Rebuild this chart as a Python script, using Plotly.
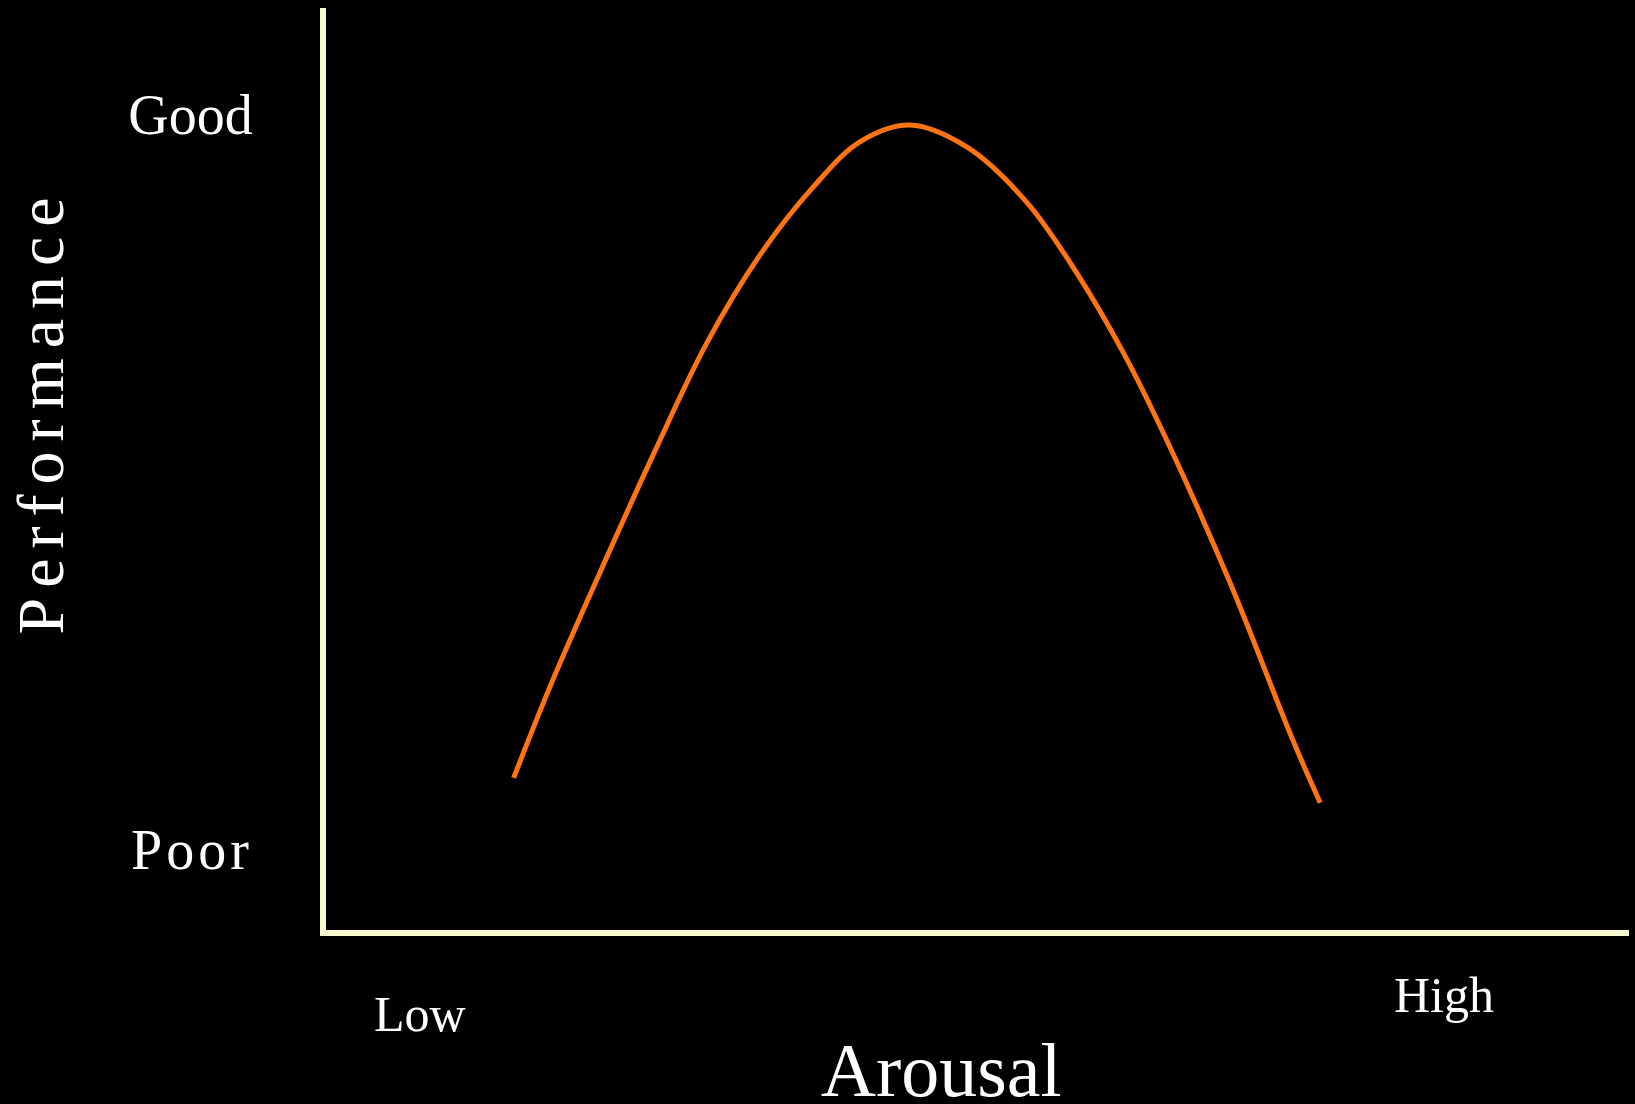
import plotly.graph_objects as go

# arousal (x) vs performance (y), axes run 0..100
arousal = [14.4, 17.4, 21.0, 25.1, 29.2, 33.3, 37.4, 41.0, 44.8,
           49.2, 53.8, 57.6, 61.2, 64.5, 69.4, 74.2, 76.3]
performance = [16.5, 27.1, 38.7, 51.5, 63.6, 73.2, 80.6, 85.5, 87.3,
               84.9, 78.9, 71.3, 62.6, 53.2, 37.6, 20.6, 13.8]

perf_tickvals = [8.7, 88.5]
perf_ticktext = ["<span style='letter-spacing:4px'>Poor</span>", "Good"]

arousal_labels = ["Low", "High"]
arousal_label_x = [7.2, 85.8]
arousal_label_y = [-0.091, -0.070]

SERIF = "Liberation Serif"
AXIS_COL = "#f8fad0"

fig = go.Figure()
fig.add_trace(go.Scatter(x=arousal, y=performance, mode="lines",
                         line=dict(color="#ff7412", width=5, shape="spline", smoothing=1.0),
                         hoverinfo="skip", showlegend=False))

fig.update_layout(
    width=1635, height=1104,
    paper_bgcolor="black", plot_bgcolor="black",
    margin=dict(l=326, r=6, t=8, b=174),
    font=dict(family=SERIF, color="white"),
    showlegend=False,
)
fig.update_xaxes(range=[0, 100], showgrid=False, zeroline=False,
                 showline=True, linecolor=AXIS_COL, linewidth=6,
                 showticklabels=False, ticks="")
fig.update_yaxes(range=[0, 100], showgrid=False, zeroline=False,
                 showline=True, linecolor=AXIS_COL, linewidth=6,
                 tickvals=perf_tickvals, ticktext=perf_ticktext, ticks="",
                 tickfont=dict(family=SERIF, size=56, color="white"),
                 ticklabelstandoff=56)

# Low / High under the x axis
for lab, lx, ly in zip(arousal_labels, arousal_label_x, arousal_label_y):
    fig.add_annotation(x=lx, y=ly, xref="x", yref="paper", text=lab,
                       showarrow=False, xanchor="center", yanchor="middle",
                       font=dict(family=SERIF, size=50, color="white"))

# axis titles
fig.add_annotation(x=47.2, y=-0.152, xref="x", yref="paper", text="Arousal",
                   showarrow=False, xanchor="center", yanchor="middle",
                   font=dict(family=SERIF, size=76, color="white"))
fig.add_annotation(x=-0.219, y=0.563, xref="paper", yref="paper",
                   text="<span style='letter-spacing:10px'>Performance</span>",
                   textangle=-90, showarrow=False, xanchor="center", yanchor="middle",
                   font=dict(family=SERIF, size=66, color="white"))

fig.write_html("out.html", config={"displayModeBar": False},
               post_script="document.body.style.margin='0';")
